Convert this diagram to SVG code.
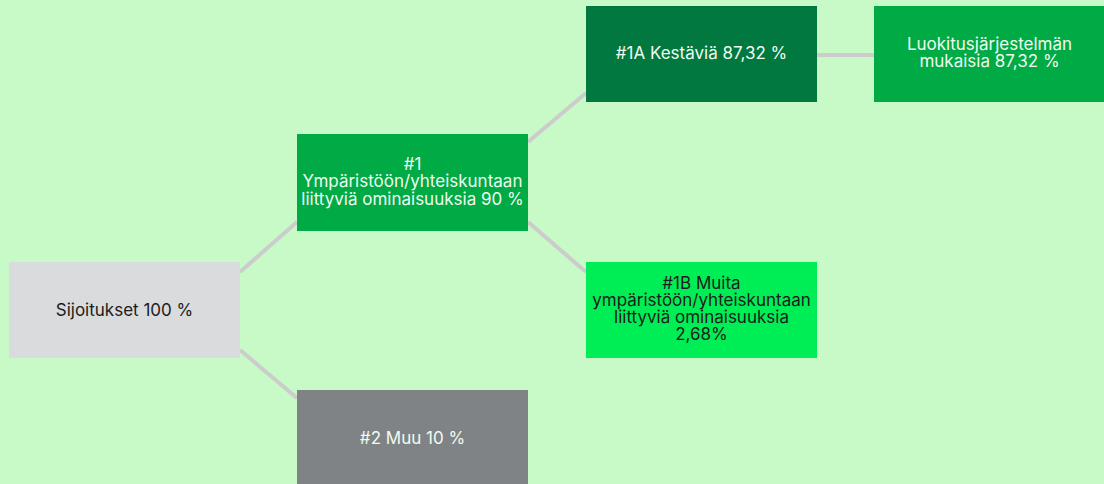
<svg xmlns="http://www.w3.org/2000/svg" width="1104" height="484" viewBox="0 0 1104 484">
<style>
.t{font-family:Inter,"Liberation Sans",sans-serif;font-size:17px;text-anchor:middle}
.lt{fill:#f0fbf0}
.dk{fill:#1c1c1c}
.c{stroke:#cccccc;stroke-width:4;fill:none}
</style>
<rect width="1104" height="484" fill="#c8fac8"/>
<g id="connectors">
<line class="c" x1="240" y1="272" x2="297" y2="222"/>
<line class="c" x1="240" y1="350" x2="297" y2="398"/>
<line class="c" x1="528" y1="142" x2="586" y2="93"/>
<line class="c" x1="528" y1="222" x2="586" y2="272"/>
<line class="c" x1="817" y1="55" x2="874" y2="55"/>
</g>
<g id="n0">
<rect x="9" y="262" width="231" height="96" fill="#dadbdd"/>
<text class="t dk" x="124.5" y="315.5">Sijoitukset 100 %</text>
</g>
<g id="n1">
<rect x="297" y="134" width="231" height="97" fill="#00aa44"/>
<text class="t lt" x="412.5" y="169.5">#1</text>
<text class="t lt" x="412.5" y="187">Ympäristöön/yhteiskuntaan</text>
<text class="t lt" x="412.5" y="204.5">liittyviä ominaisuuksia 90 %</text>
</g>
<g id="n1a">
<rect x="586" y="6" width="231" height="96" fill="#007840"/>
<text class="t lt" x="701.5" y="59">#1A Kestäviä 87,32 %</text>
</g>
<g id="n1a1">
<rect x="874" y="6" width="231" height="96" fill="#00aa44"/>
<text class="t lt" x="989.5" y="50">Luokitusjärjestelmän</text>
<text class="t lt" x="989.5" y="67">mukaisia 87,32 %</text>
</g>
<g id="n1b">
<rect x="586" y="262" width="231" height="96" fill="#00ee55"/>
<text class="t dk" x="701.5" y="288.5">#1B Muita</text>
<text class="t dk" x="701.5" y="306">ympäristöön/yhteiskuntaan</text>
<text class="t dk" x="701.5" y="322.5">liittyviä ominaisuuksia</text>
<text class="t dk" x="701.5" y="340">2,68%</text>
</g>
<g id="n2">
<rect x="297" y="390" width="231" height="96" fill="#7f8386"/>
<text class="t lt" x="412.5" y="444">#2 Muu 10 %</text>
</g>
</svg>
